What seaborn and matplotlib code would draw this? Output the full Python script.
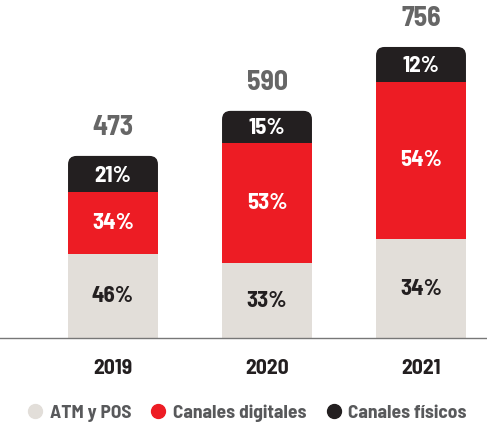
import numpy as np
import pandas as pd
import matplotlib
matplotlib.use("Agg")
import matplotlib.pyplot as plt
import seaborn as sns
from matplotlib.patches import FancyBboxPatch
from matplotlib.lines import Line2D

# data
years = ["2019", "2020", "2021"]
totals = [473, 590, 756]
atm_pos = [46, 33, 34]
digitales = [34, 53, 54]
fisicos = [21, 15, 12]
series_names = ["ATM y POS", "Canales digitales", "Canales físicos"]

c_gray = "#e2ded9"
c_red = "#ed1c24"
c_black = "#231f20"

sns.set_style("white")
plt.rcParams["font.family"] = ["Barlow Semi Condensed", "DejaVu Sans"]

df = pd.DataFrame({"year": years, "total": totals, "atm": atm_pos,
                   "dig": digitales, "fis": fisicos})
df["h_atm"] = df["total"] * df["atm"] / 100
df["h_red_top"] = df["total"] * (df["atm"] + df["dig"]) / 100

fig = plt.figure(figsize=(4.87, 4.30), dpi=100)
ax = fig.add_axes([0, (430 - 338) / 430, 1, 338 / 430])

bw = 0.584
# black bar first (full height), later swapped for a rounded-top patch
sns.barplot(data=df, x="year", y="total", color=c_black, width=bw, ax=ax,
            saturation=1, order=years, linewidth=0)
ax.set_xlim(-113 / 154, (487 - 113) / 154)
ax.set_ylim(0, 878)

black_bars = list(ax.patches)
# aspect of data units so the corner rounding looks round
p0 = ax.transData.transform((0, 0))
p1 = ax.transData.transform((1, 1))
aspect = (p1[0] - p0[0]) / (p1[1] - p0[1])
for b in black_bars:
    x, w, h = b.get_x(), b.get_width(), b.get_height()
    b.remove()
    ax.add_patch(FancyBboxPatch((x, 0), w, h,
                                boxstyle="round,pad=0,rounding_size=0.055",
                                mutation_aspect=aspect, fc=c_black, ec="none",
                                zorder=1))

sns.barplot(data=df, x="year", y="h_red_top", color=c_red, width=bw, ax=ax,
            saturation=1, order=years, linewidth=0)
sns.barplot(data=df, x="year", y="h_atm", color=c_gray, width=bw, ax=ax,
            saturation=1, order=years, linewidth=0)
ax.set_xlim(-113 / 154, (487 - 113) / 154)
ax.set_ylim(0, 878)

lbl = dict(ha="center", va="center", fontsize=16.5, fontweight="bold")
for i, r in df.iterrows():
    ax.text(i, r["h_atm"] / 2, f"{r['atm']}%", color=c_black, **lbl)
    ax.text(i, (r["h_atm"] + r["h_red_top"]) / 2, f"{r['dig']}%",
            color="white", **lbl)
    ax.text(i, (r["h_red_top"] + r["total"]) / 2 - 4, f"{r['fis']}%",
            color="white", **lbl)
    ax.text(i, r["total"] + 73, f"{r['total']}", ha="center", va="center",
            fontsize=20, fontweight="bold", color="#666666")

ax.set_xlabel("")
ax.set_ylabel("")
ax.set_yticks([])
ax.tick_params(axis="x", length=0, pad=15, labelsize=15.5, labelcolor=c_black)
for lab in ax.get_xticklabels():
    lab.set_fontweight("bold")
for s in ["top", "left", "right"]:
    ax.spines[s].set_visible(False)
ax.spines["bottom"].set_color("#777777")
ax.spines["bottom"].set_linewidth(1)

handles = [Line2D([], [], marker="o", ls="", color=c, markersize=10)
           for c in [c_gray, c_red, c_black]]
leg = fig.legend(handles, series_names, loc="center", ncol=3,
                 bbox_to_anchor=(0.505, 1 - 413 / 430), frameon=False,
                 handletextpad=0.25, columnspacing=0.9, handlelength=1.0,
                 prop={"size": 14, "weight": "bold"})
for t in leg.get_texts():
    t.set_color("#58595b")

fig.savefig("out.png", dpi=100)
